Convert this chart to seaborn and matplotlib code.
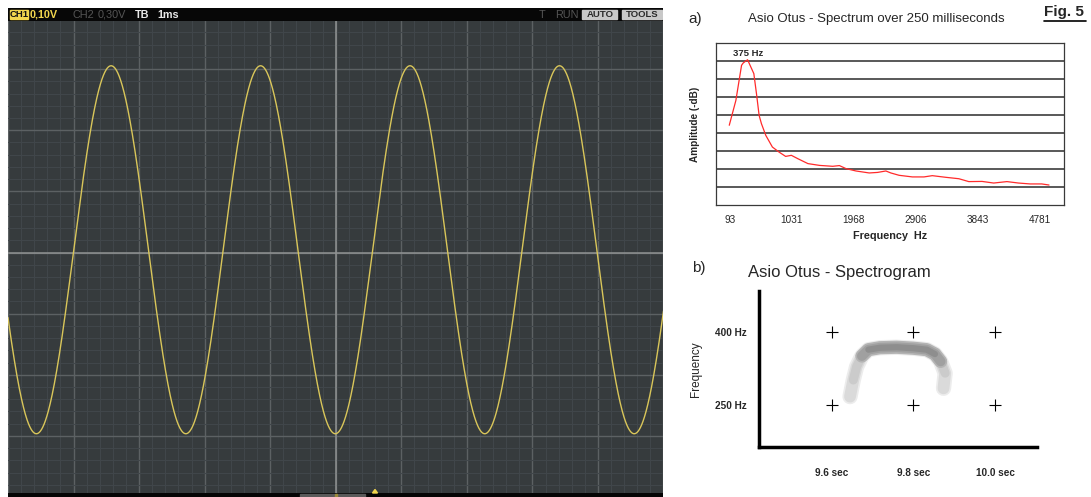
import numpy as np
import matplotlib.pyplot as plt
import seaborn as sns
from matplotlib.patches import Rectangle, Polygon
from matplotlib.lines import Line2D

# oscilloscope trace (1 ms / division, amplitude in divisions)
scope_period_ms = 2.28
scope_amplitude_div = 3.01
scope_offset_div = 0.045
scope_trough_ms = -0.007

# a) spectrum, level in grid rows above the bottom of the box
spec_freq = [83, 183, 269, 294, 360, 455, 495, 535, 570, 636, 736, 837, 937, 1023, 1123,
             1274, 1450, 1650, 1751, 1852, 2002, 2203, 2329, 2455, 2530, 2655, 2856,
             3032, 3158, 3359, 3560, 3711, 3912, 4088, 4289, 4464, 4640, 4816, 4926]
spec_level = [4.43, 5.81, 7.76, 7.89, 8.07, 7.30, 6.19, 4.98, 4.52, 3.87, 3.22, 2.94, 2.70,
              2.76, 2.57, 2.30, 2.20, 2.15, 2.19, 2.02, 1.89, 1.78, 1.81, 1.89, 1.78,
              1.65, 1.56, 1.56, 1.63, 1.54, 1.46, 1.30, 1.31, 1.22, 1.30, 1.22, 1.17,
              1.17, 1.11]
spec_ticks = [93, 1031, 1968, 2906, 3843, 4781]
peak_label = '375 Hz'

# b) spectrogram arch
arch_time = [9.645, 9.653, 9.661, 9.674, 9.690, 9.718, 9.759, 9.800, 9.833, 9.853,
             9.867, 9.878, 9.874]
arch_freq = [267, 301, 328, 350, 363, 367, 368, 366, 363, 354, 339, 315, 284]
grid_times = [9.6, 9.8, 10.0]
grid_freqs = [250, 400]
time_labels = ['9.6 sec', '9.8 sec', '10.0 sec']
freq_labels = ['250 Hz', '400 Hz']

W, H = 1091, 497


def box(x0, y0, x1, y1):
    return [x0 / W, 1 - y1 / H, (x1 - x0) / W, (y1 - y0) / H]


sns.set_style('white')
plt.rcParams['font.family'] = ['Liberation Sans', 'DejaVu Sans']

fig = plt.figure(figsize=(W / 100, H / 100), dpi=100)

# ---------------- oscilloscope ----------------
ax = fig.add_axes(box(8, 8, 663.5, 497))
ax.set_facecolor('#363b3d')
t = np.linspace(-5, 5, 3000)
v = scope_offset_div - scope_amplitude_div * np.cos(2 * np.pi * (t - scope_trough_ms) / scope_period_ms)
sns.lineplot(x=t, y=v, ax=ax, color='#d9c65a', lw=1.0, zorder=3)
ax.set_xlim(-5, 5)
ax.set_ylim(-4.0, 3.98)
ax.set_xticks(np.arange(-5, 6, 1))
ax.set_xticks(np.arange(-5, 5.01, 0.2), minor=True)
ax.set_yticks(np.arange(-4, 5, 1))
ax.set_yticks(np.arange(-4, 4.01, 0.2), minor=True)
ax.grid(which='major', color='#5c6163', lw=1.0)
ax.grid(which='minor', color='#40464a', lw=0.8)
ax.set_axisbelow(True)
ax.axvline(0, color='#8f9292', lw=1.1, zorder=2)
ax.axhline(0, color='#8f9292', lw=1.1, zorder=2)
ax.tick_params(which='both', length=0, labelbottom=False, labelleft=False)
for s in ax.spines.values():
    s.set_visible(False)

# header bar
hd = fig.add_axes(box(8, 8, 663.5, 21))
hd.set_facecolor('#070707')
hd.set_xlim(8, 663.5)
hd.set_ylim(21, 8)
hd.set_xticks([])
hd.set_yticks([])
for s in hd.spines.values():
    s.set_visible(False)
fs = 7.8
hk = dict(fontsize=fs, fontweight='bold', va='center')
hr = dict(fontsize=fs, va='center', color='#555555')
bk = dict(fontsize=6.8, fontweight='bold', va='center', ha='center')
hd.add_patch(Rectangle((9.5, 10), 18.5, 9, color='#f2d64e'))
hd.text(18.8, 14.6, 'CH1', color='#111111', **bk)
hd.text(30, 14.6, '0,10V', color='#f2d64e', **hk)
hd.text(73, 14.6, 'CH2', **hr)
hd.text(98, 14.6, '0,30V', **hr)
hd.text(135, 14.6, 'TB', color='#e8e8e8', **hk)
hd.text(157, 14.6, '1ms', color='#e8e8e8', **hk)
hd.text(539, 14.6, 'T', **hr)
hd.text(555, 14.6, 'RUN', **hr)
hd.add_patch(Rectangle((582.5, 10), 35, 9, color='#c8c8c8'))
hd.text(600, 14.6, 'AUTO', color='#2a2a2a', **bk)
hd.add_patch(Rectangle((622, 10), 40, 9, color='#c8c8c8'))
hd.text(642, 14.6, 'TOOLS', color='#2a2a2a', **bk)

# footer bar
ft = fig.add_axes(box(8, 493, 663.5, 497))
ft.set_facecolor('#050505')
ft.set_xlim(8, 663.5)
ft.set_ylim(497, 493)
ft.set_xticks([])
ft.set_yticks([])
for s in ft.spines.values():
    s.set_visible(False)
ft.add_patch(Rectangle((300, 493.5), 65, 3.5, color='#5a5a5a'))
ft.add_patch(Rectangle((335.5, 493.5), 2, 3.5, color='#9a8a3a'))
ft.add_patch(Polygon([[372.5, 493], [377.5, 493], [375, 489.5]], closed=True,
                     color='#f2d64e', clip_on=False))

# ---------------- a) spectrum ----------------
fig.text(688 / W, 1 - 19 / H, 'a)', fontsize=11, va='center', ha='left')
fig.text(748 / W, 1 - 19 / H, 'Asio Otus - Spectrum over 250 milliseconds',
         fontsize=9.5, va='center', ha='left')
fig.text(1044 / W, 1 - 12 / H, 'Fig. 5', fontsize=11, fontweight='bold',
         va='center', ha='left')
fig.add_artist(Line2D([1044 / W, 1086 / W], [1 - 21.3 / H, 1 - 21.3 / H],
                      color='black', lw=1.2))

sp = fig.add_axes(box(716, 43, 1064, 205))
for yv in range(1, 9):
    sp.axhline(yv, color='#2b2b2b', lw=1.1, zorder=1)
sns.lineplot(x=spec_freq, y=spec_level, ax=sp, color='#ff2b2b', lw=0.9, zorder=3)
sp.set_xlim(-118, 5153)
sp.set_ylim(0, 9)
sp.set_xticks(spec_ticks)
sp.set_xticklabels([str(v) for v in spec_ticks], fontsize=7.2)
sp.set_yticks([])
sp.tick_params(axis='x', length=0, pad=7)
for s in sp.spines.values():
    s.set_color('#3a3a3a')
    s.set_linewidth(0.9)
sp.set_xlabel('Frequency  Hz', fontsize=7.8, fontweight='bold')
sp.xaxis.set_label_coords(0.5, -0.16)
sp.set_ylabel('Amplitude (-dB)', fontsize=7.2, fontweight='bold')
sp.yaxis.set_label_coords(-0.045, 0.5)
pk = int(np.argmax(spec_level))
sp.annotate(peak_label, xy=(spec_freq[pk], spec_level[pk]), xytext=(-15, 1.5),
            textcoords='offset pixels', fontsize=6.8, fontweight='bold',
            ha='left', va='bottom')

# ---------------- b) spectrogram ----------------
fig.text(692 / W, 1 - 268 / H, 'b)', fontsize=11, va='center', ha='left')
fig.text(748 / W, 1 - 272 / H, 'Asio Otus - Spectrogram', fontsize=12,
         va='center', ha='left')

sg = fig.add_axes(box(759, 291, 1037, 447))
sg.set_facecolor('white')
sg.set_xlim(9.422, 10.103)
sg.set_ylim(164, 483)
# soft grey arch: wide pale halo, darker core across the top
arch_layers = [(slice(0, 13), '#ececec', 11), (slice(0, 13), '#dadada', 8.5),
               (slice(1, 12), '#cbcbcb', 6.5), (slice(3, 11), '#b4b4b4', 9.5),
               (slice(3, 11), '#a0a0a0', 7.0), (slice(4, 10), '#8e8e8e', 4.5)]
for sl, col, lw in arch_layers:
    sns.lineplot(x=arch_time[sl], y=arch_freq[sl], ax=sg, sort=False, color=col, lw=lw,
                 solid_capstyle='round', solid_joinstyle='round', zorder=2)
gx = [tm for fq in grid_freqs for tm in grid_times]
gy = [fq for fq in grid_freqs for tm in grid_times]
sns.scatterplot(x=gx, y=gy, ax=sg, marker='+', s=70, color='black', linewidth=0.8, zorder=3)
sg.set_xticks(grid_times)
sg.set_xticklabels(time_labels, fontsize=7.2, fontweight='bold')
sg.set_yticks(grid_freqs)
sg.set_yticklabels(freq_labels, fontsize=7.2, fontweight='bold')
sg.tick_params(axis='x', length=0, pad=15)
sg.tick_params(axis='y', length=0, pad=8.5)
for side in ['top', 'right']:
    sg.spines[side].set_visible(False)
for side in ['left', 'bottom']:
    sg.spines[side].set_color('black')
    sg.spines[side].set_linewidth(2.5)
sg.set_ylabel('Frequency', fontsize=8.5)
sg.yaxis.set_label_coords(-0.205, 0.5)

fig.savefig('out.png', dpi=100, facecolor='white')
